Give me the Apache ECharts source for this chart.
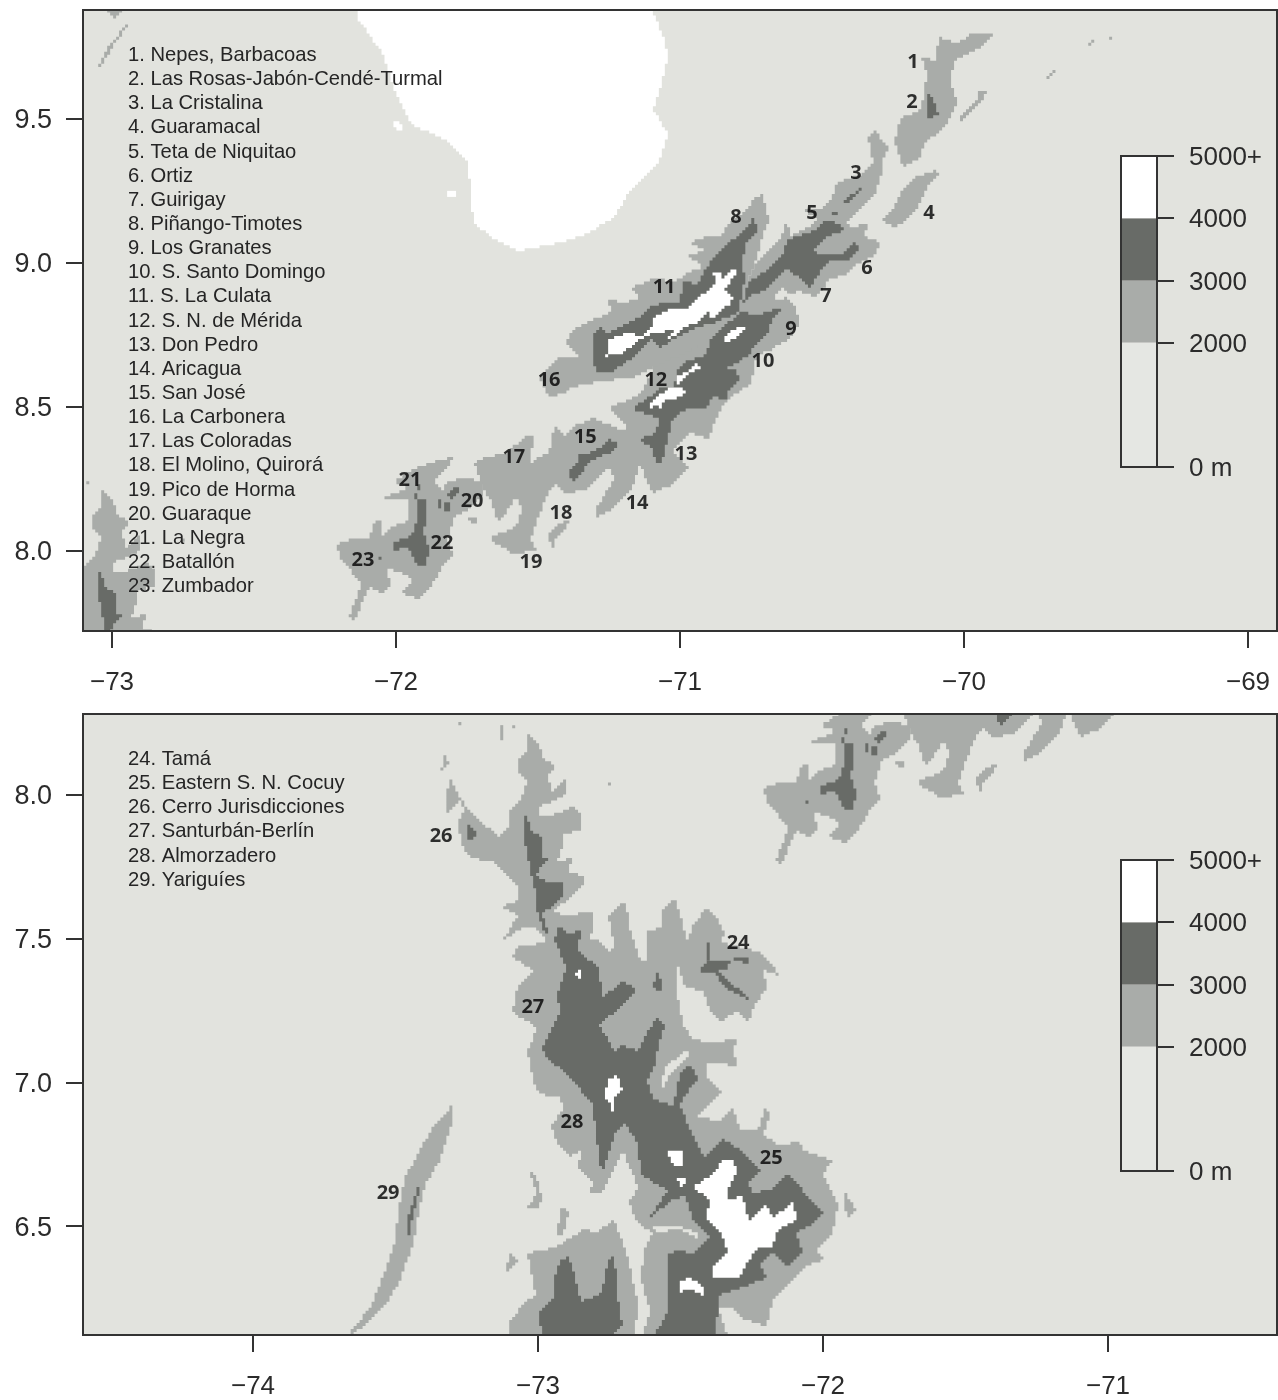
<!DOCTYPE html>
<html><head><meta charset="utf-8">
<script src="https://cdn.jsdelivr.net/npm/echarts@6/dist/echarts.min.js"></script>
<style>html,body{margin:0;padding:0;background:#fff}#c{width:1278px;height:1400px}</style>
</head><body><div id="c"></div>
<script>
// ----- text -----
const namesTop=["1. Nepes, Barbacoas","2. Las Rosas-Jabón-Cendé-Turmal","3. La Cristalina","4. Guaramacal","5. Teta de Niquitao","6. Ortiz","7. Guirigay","8. Piñango-Timotes","9. Los Granates","10. S. Santo Domingo","11. S. La Culata","12. S. N. de Mérida","13. Don Pedro","14. Aricagua","15. San José","16. La Carbonera","17. Las Coloradas","18. El Molino, Quirorá","19. Pico de Horma","20. Guaraque","21. La Negra","22. Batallón","23. Zumbador"];
const namesBottom=["24. Tamá","25. Eastern S. N. Cocuy","26. Cerro Jurisdicciones","27. Santurbán-Berlín","28. Almorzadero","29. Yariguíes"];
// ----- ticks and axis limits (degrees) -----
const lonTicksTop=[-73,-72,-71,-70,-69];
const latTicksTop=[8,8.5,9,9.5];
const lonTicksBottom=[-74,-73,-72,-71];
const latTicksBottom=[6.5,7,7.5,8];
const limitsTop=[-73.1021,-68.8979,7.7222,9.8785];
const limitsBottom=[-74.5965,-70.407,6.1215,8.28125];
// ----- number labels [lon,lat,text] -----
const labelsTop=[[-70.180,9.698,"1"],[-70.183,9.559,"2"],[-70.380,9.313,"3"],[-70.123,9.174,"4"],[-70.535,9.171,"5"],[-70.342,8.980,"6"],[-70.486,8.886,"7"],[-70.803,9.157,"8"],[-70.609,8.771,"9"],[-70.708,8.660,"10"],[-71.056,8.914,"11"],[-71.085,8.594,"12"],[-70.979,8.337,"13"],[-71.151,8.167,"14"],[-71.334,8.396,"15"],[-71.461,8.591,"16"],[-71.585,8.327,"17"],[-71.419,8.132,"18"],[-71.525,7.962,"19"],[-71.732,8.171,"20"],[-71.951,8.244,"21"],[-71.838,8.025,"22"],[-72.116,7.966,"23"]];
const labelsBottom=[[-72.298,7.483,"24"],[-72.182,6.737,"25"],[-73.340,7.855,"26"],[-73.018,7.261,"27"],[-72.881,6.862,"28"],[-73.526,6.615,"29"]];
// ----- elevation legend (m) -----
const bandEdges=[0,2000,3000,4000,5000];
const legendTicks=[0,2000,3000,4000,5000];
const bandColors=["#e5e7e3","#a9aca9","#686b67","#ffffff"];
// ----- 2000-3000 m outlines [lon,lat] -----
const mid=[
[[-70.077,9.802],[-70.074,9.774],[-70.025,9.764],[-69.968,9.799],[-69.901,9.799],[-69.933,9.757],[-70.014,9.715],[-70.039,9.705],[-70.049,9.625],[-70.025,9.559],[-70.060,9.497],[-70.085,9.451],[-70.137,9.417],[-70.148,9.368],[-70.215,9.333],[-70.250,9.417],[-70.225,9.507],[-70.155,9.531],[-70.137,9.611],[-70.127,9.663],[-70.148,9.712],[-70.095,9.705],[-70.095,9.740]],
[[-69.954,9.594],[-69.915,9.594],[-69.937,9.559],[-69.979,9.521],[-70.007,9.490],[-70.021,9.503],[-69.986,9.538],[-69.954,9.573]],
[[-69.725,9.642],[-69.697,9.663],[-69.662,9.681],[-69.676,9.660],[-69.708,9.639]],
[[-69.574,9.757],[-69.549,9.774],[-69.532,9.760]],
[[-69.486,9.781],[-69.465,9.774],[-69.479,9.760]],
[[-70.095,9.323],[-70.092,9.306],[-70.130,9.264],[-70.165,9.194],[-70.201,9.149],[-70.250,9.125],[-70.289,9.142],[-70.250,9.194],[-70.215,9.264],[-70.162,9.299]],
[[-70.313,9.469],[-70.296,9.427],[-70.268,9.399],[-70.282,9.358],[-70.289,9.312],[-70.313,9.253],[-70.359,9.184],[-70.412,9.142],[-70.401,9.122],[-70.338,9.139],[-70.352,9.097],[-70.296,9.069],[-70.303,9.035],[-70.366,9.000],[-70.408,8.958],[-70.479,8.951],[-70.500,8.906],[-70.525,8.882],[-70.577,8.899],[-70.630,8.882],[-70.595,8.854],[-70.581,8.785],[-70.613,8.733],[-70.655,8.715],[-70.690,8.691],[-70.729,8.681],[-70.754,8.576],[-70.806,8.542],[-70.852,8.490],[-70.887,8.427],[-70.894,8.392],[-70.958,8.410],[-71.018,8.344],[-70.972,8.281],[-71.025,8.236],[-71.095,8.201],[-71.113,8.240],[-71.141,8.309],[-71.169,8.212],[-71.257,8.142],[-71.292,8.118],[-71.299,8.149],[-71.236,8.257],[-71.257,8.292],[-71.327,8.212],[-71.398,8.201],[-71.433,8.236],[-71.468,8.201],[-71.493,8.132],[-71.528,8.038],[-71.504,8.004],[-71.588,7.993],[-71.669,8.038],[-71.574,8.083],[-71.553,8.153],[-71.574,8.188],[-71.623,8.118],[-71.644,8.108],[-71.658,8.167],[-71.694,8.222],[-71.722,8.306],[-71.680,8.323],[-71.623,8.340],[-71.539,8.403],[-71.518,8.403],[-71.528,8.306],[-71.504,8.326],[-71.468,8.340],[-71.447,8.427],[-71.412,8.396],[-71.377,8.431],[-71.306,8.465],[-71.211,8.420],[-71.176,8.431],[-71.257,8.490],[-71.141,8.549],[-71.106,8.611],[-71.088,8.663],[-70.965,8.733],[-70.806,8.872],[-70.729,9.010],[-70.658,9.069],[-70.623,9.142],[-70.613,9.090],[-70.553,9.125],[-70.518,9.160],[-70.567,9.191],[-70.497,9.184],[-70.461,9.229],[-70.447,9.278],[-70.373,9.299],[-70.320,9.340],[-70.342,9.437]],
[[-71.458,8.535],[-71.493,8.604],[-71.433,8.670],[-71.363,8.670],[-71.398,8.722],[-71.377,8.767],[-71.317,8.802],[-71.246,8.826],[-71.254,8.872],[-71.187,8.861],[-71.141,8.882],[-71.169,8.917],[-71.095,8.951],[-71.025,8.934],[-70.965,8.965],[-70.919,8.986],[-70.975,9.028],[-70.905,9.045],[-70.972,9.073],[-70.905,9.090],[-70.859,9.090],[-70.835,9.139],[-70.746,9.194],[-70.754,9.219],[-70.708,9.243],[-70.701,9.174],[-70.683,9.149],[-70.708,9.104],[-70.729,9.021],[-70.754,8.965],[-70.771,8.906],[-70.800,8.800],[-70.950,8.700],[-71.090,8.640],[-71.165,8.604],[-71.282,8.590],[-71.377,8.569],[-71.405,8.542]],
[[-71.803,8.323],[-71.915,8.292],[-72.014,8.247],[-71.961,8.219],[-72.049,8.184],[-71.958,8.177],[-71.958,8.108],[-72.014,8.083],[-72.056,8.038],[-72.049,8.108],[-72.074,8.108],[-72.092,8.038],[-72.144,8.038],[-72.204,8.021],[-72.197,7.976],[-72.151,7.924],[-72.120,7.889],[-72.137,7.840],[-72.169,7.771],[-72.144,7.760],[-72.116,7.830],[-72.092,7.875],[-72.046,7.858],[-72.021,7.889],[-72.032,7.934],[-71.986,7.924],[-71.940,7.899],[-71.975,7.858],[-71.926,7.830],[-71.870,7.889],[-71.838,7.934],[-71.799,7.993],[-71.820,8.038],[-71.785,8.132],[-71.750,8.142],[-71.694,8.201],[-71.694,8.247],[-71.750,8.257],[-71.820,8.247],[-71.834,8.212],[-71.870,8.247],[-71.810,8.306]],
[[-71.750,8.118],[-71.715,8.115],[-71.715,8.094],[-71.739,8.097]],
[[-71.387,8.108],[-71.423,8.097],[-71.468,8.063],[-71.451,7.997],[-71.433,8.049],[-71.398,8.083]],
[[-72.937,9.854],[-73.014,9.740],[-73.053,9.681],[-73.042,9.677],[-72.996,9.750],[-72.947,9.833]],
[[-73.014,9.880],[-72.965,9.880],[-72.982,9.854]],
[[-73.316,8.062],[-73.284,8.003],[-73.239,7.934],[-73.179,7.889],[-73.133,7.854],[-73.098,7.899],[-73.105,7.944],[-73.063,7.979],[-73.039,8.049],[-73.070,8.073],[-73.074,8.132],[-73.035,8.160],[-73.035,8.212],[-72.993,8.177],[-72.982,8.132],[-72.933,8.097],[-72.965,8.062],[-72.958,8.010],[-72.905,8.062],[-72.905,8.003],[-72.947,7.976],[-72.993,7.958],[-73,7.924],[-72.958,7.924],[-72.881,7.958],[-72.853,7.924],[-72.846,7.875],[-72.912,7.865],[-72.912,7.819],[-72.930,7.771],[-72.877,7.785],[-72.895,7.726],[-72.835,7.715],[-72.842,7.681],[-72.912,7.622],[-72.947,7.587],[-72.912,7.576],[-72.811,7.587],[-72.807,7.542],[-72.818,7.493],[-72.789,7.493],[-72.747,7.448],[-72.737,7.483],[-72.754,7.576],[-72.705,7.632],[-72.677,7.576],[-72.684,7.542],[-72.635,7.424],[-72.618,7.424],[-72.618,7.528],[-72.565,7.542],[-72.561,7.587],[-72.526,7.649],[-72.495,7.562],[-72.484,7.493],[-72.467,7.493],[-72.460,7.542],[-72.407,7.611],[-72.368,7.562],[-72.344,7.517],[-72.351,7.483],[-72.232,7.455],[-72.186,7.424],[-72.161,7.372],[-72.210,7.389],[-72.196,7.333],[-72.239,7.264],[-72.263,7.215],[-72.302,7.250],[-72.351,7.215],[-72.396,7.240],[-72.421,7.319],[-72.477,7.333],[-72.512,7.413],[-72.509,7.309],[-72.491,7.205],[-72.456,7.149],[-72.396,7.139],[-72.302,7.149],[-72.316,7.104],[-72.298,7.052],[-72.351,7.069],[-72.407,7.069],[-72.407,7.010],[-72.351,6.976],[-72.386,6.931],[-72.442,6.882],[-72.361,6.872],[-72.316,6.906],[-72.291,6.837],[-72.232,6.837],[-72.203,6.917],[-72.186,6.882],[-72.210,6.813],[-72.151,6.785],[-72.081,6.795],[-72.074,6.757],[-71.965,6.733],[-72.000,6.674],[-71.947,6.569],[-71.965,6.479],[-72.021,6.420],[-72.000,6.385],[-72.056,6.361],[-72.126,6.292],[-72.175,6.236],[-72.196,6.153],[-72.267,6.177],[-72.316,6.212],[-72.361,6.212],[-72.337,6.108],[-72.642,6.108],[-72.607,6.201],[-72.642,6.316],[-72.632,6.420],[-72.596,6.479],[-72.653,6.514],[-72.677,6.583],[-72.653,6.639],[-72.702,6.767],[-72.740,6.681],[-72.772,6.611],[-72.818,6.618],[-72.807,6.653],[-72.863,6.708],[-72.846,6.757],[-72.888,6.740],[-72.933,6.792],[-72.951,6.847],[-72.912,6.906],[-72.923,6.948],[-72.968,6.951],[-73.004,6.976],[-73.039,7.104],[-73.018,7.149],[-73.011,7.194],[-73.088,7.240],[-73.074,7.344],[-73.018,7.389],[-73.088,7.437],[-73.074,7.472],[-73.028,7.472],[-72.968,7.493],[-73.018,7.542],[-73.053,7.542],[-73.123,7.493],[-73.074,7.576],[-73.133,7.611],[-73.074,7.632],[-73.074,7.691],[-73.098,7.715],[-73.161,7.771],[-73.239,7.785],[-73.274,7.830],[-73.281,7.910],[-73.263,7.944],[-73.274,7.976],[-73.326,7.941],[-73.326,7.979]],
[[-71.923,6.622],[-71.888,6.552],[-71.912,6.531],[-71.930,6.576]],
[[-73.098,6.108],[-73.098,6.167],[-73.053,6.236],[-73.004,6.257],[-73.039,6.410],[-72.947,6.431],[-72.842,6.490],[-72.793,6.483],[-72.737,6.524],[-72.688,6.420],[-72.653,6.236],[-72.660,6.108]],
[[-73.302,6.941],[-73.298,6.854],[-73.344,6.733],[-73.397,6.646],[-73.414,6.559],[-73.442,6.438],[-73.491,6.299],[-73.537,6.212],[-73.590,6.160],[-73.653,6.122],[-73.660,6.135],[-73.583,6.229],[-73.537,6.333],[-73.502,6.455],[-73.491,6.559],[-73.467,6.663],[-73.414,6.767],[-73.368,6.854],[-73.316,6.906]],
[[-73.028,6.688],[-73.004,6.681],[-72.986,6.594],[-72.993,6.559],[-73.035,6.559],[-73.011,6.611]],
[[-72.923,6.559],[-72.895,6.552],[-72.912,6.472],[-72.930,6.472]],
[[-73.098,6.410],[-73.074,6.385],[-73.098,6.344],[-73.109,6.344]],
[[-72.754,8.042],[-72.719,8.056],[-72.740,8.031]],
[[-73.133,8.247],[-73.123,8.247],[-73.123,8.194],[-73.133,8.198]],
[[-73.105,8.243],[-73.070,8.243],[-73.081,8.233]],
[[-73.288,8.257],[-73.260,8.257],[-73.274,8.243]],
[[-73.333,8.149],[-73.316,8.101],[-73.354,8.083],[-73.330,8.087]]
];
// ----- gaps below 2000 m inside the ranges -----
const low=[
[[-70.676,8.878],[-70.637,8.913],[-70.613,8.885],[-70.648,8.872]],
[[-72.477,7.108],[-72.463,7.094],[-72.547,7.028],[-72.558,6.986],[-72.568,6.993],[-72.558,7.052]],
[[-72.596,6.497],[-72.502,6.503],[-72.432,6.469],[-72.435,6.455],[-72.502,6.486],[-72.589,6.479]]
];
// ----- 3000-4000 m outlines -----
const dark=[
[[-71.310,8.743],[-71.289,8.778],[-71.254,8.760],[-71.194,8.792],[-71.151,8.809],[-71.116,8.844],[-71.060,8.861],[-71,8.865],[-70.986,8.931],[-70.937,8.924],[-70.919,8.969],[-70.894,9.000],[-70.859,9.052],[-70.813,9.087],[-70.761,9.122],[-70.739,9.163],[-70.729,9.108],[-70.771,9.062],[-70.778,8.983],[-70.771,8.948],[-70.789,8.847],[-70.789,8.830],[-70.884,8.792],[-70.940,8.774],[-71,8.743],[-71.070,8.708],[-71.095,8.733],[-71.141,8.698],[-71.176,8.663],[-71.239,8.622],[-71.299,8.622],[-71.310,8.674]],
[[-70.437,9.139],[-70.426,9.115],[-70.497,9.080],[-70.532,9.045],[-70.507,9.035],[-70.437,9.028],[-70.377,9.069],[-70.366,9.045],[-70.412,9.010],[-70.472,9.010],[-70.507,8.965],[-70.542,8.917],[-70.567,8.951],[-70.623,8.976],[-70.694,8.906],[-70.764,8.882],[-70.789,8.830],[-70.729,8.819],[-70.658,8.844],[-70.637,8.837],[-70.673,8.795],[-70.694,8.743],[-70.743,8.715],[-70.754,8.681],[-70.824,8.646],[-70.842,8.628],[-70.799,8.628],[-70.789,8.594],[-70.835,8.559],[-70.835,8.524],[-70.884,8.535],[-70.905,8.490],[-70.965,8.490],[-71.018,8.465],[-71.028,8.431],[-71.046,8.385],[-71.060,8.306],[-71.081,8.306],[-71.095,8.358],[-71.148,8.385],[-71.081,8.410],[-71.070,8.462],[-71.165,8.490],[-71.106,8.535],[-71.060,8.569],[-71.025,8.569],[-71.011,8.618],[-70.989,8.653],[-70.905,8.688],[-70.894,8.733],[-70.849,8.778],[-70.789,8.819],[-70.764,8.931],[-70.708,8.965],[-70.648,9.021],[-70.623,9.080],[-70.532,9.115],[-70.482,9.149]],
[[-71.870,8.274],[-71.915,8.247],[-71.933,8.177],[-71.891,8.177],[-71.898,8.108],[-71.901,8.062],[-71.880,8.014],[-71.898,7.951],[-71.926,7.951],[-71.961,8.014],[-72.011,8.004],[-72.004,8.031],[-71.951,8.049],[-71.926,8.118],[-71.926,8.201],[-71.901,8.253]],
[[-71.820,8.194],[-71.792,8.236],[-71.775,8.212],[-71.785,8.188],[-71.803,8.184]],
[[-71.856,8.177],[-71.842,8.177],[-71.838,8.153],[-71.856,8.153]],
[[-71.831,8.167],[-71.813,8.167],[-71.810,8.139],[-71.831,8.142]],
[[-72.049,7.979],[-72.067,7.934],[-72.077,7.927],[-72.063,7.976]],
[[-71.363,8.340],[-71.327,8.333],[-71.282,8.358],[-71.257,8.385],[-71.211,8.368],[-71.236,8.351],[-71.306,8.316],[-71.342,8.281],[-71.377,8.236],[-71.387,8.281],[-71.363,8.306]],
[[-70.419,9.219],[-70.359,9.264],[-70.366,9.243],[-70.412,9.208]],
[[-70.465,9.174],[-70.444,9.174],[-70.444,9.163],[-70.465,9.163]],
[[-70.127,9.601],[-70.113,9.566],[-70.092,9.514],[-70.130,9.507],[-70.127,9.556]],
[[-73.249,7.906],[-73.221,7.865],[-73.239,7.830],[-73.246,7.865]],
[[-73.053,7.927],[-73.035,7.924],[-73.028,7.875],[-72.986,7.854],[-72.986,7.785],[-72.965,7.785],[-72.965,7.767],[-73,7.736],[-73.011,7.715],[-72.968,7.701],[-72.912,7.698],[-72.912,7.649],[-72.965,7.597],[-72.982,7.576],[-72.968,7.517],[-72.986,7.535],[-73.011,7.611],[-73.011,7.656],[-73.039,7.795],[-73.053,7.854]],
[[-72.947,7.493],[-72.923,7.552],[-72.898,7.517],[-72.853,7.528],[-72.863,7.455],[-72.818,7.424],[-72.782,7.389],[-72.772,7.299],[-72.705,7.354],[-72.653,7.319],[-72.702,7.264],[-72.782,7.208],[-72.737,7.104],[-72.702,7.125],[-72.653,7.104],[-72.632,7.149],[-72.582,7.219],[-72.554,7.194],[-72.572,7.139],[-72.582,7.069],[-72.618,7.000],[-72.596,6.941],[-72.526,6.917],[-72.502,7.035],[-72.467,7.069],[-72.442,7.010],[-72.491,6.941],[-72.502,6.917],[-72.456,6.826],[-72.421,6.740],[-72.351,6.802],[-72.281,6.767],[-72.232,6.698],[-72.196,6.708],[-72.256,6.653],[-72.246,6.618],[-72.186,6.628],[-72.126,6.674],[-72.070,6.628],[-72.035,6.569],[-72.000,6.552],[-72.035,6.514],[-72.091,6.479],[-72.070,6.410],[-72.126,6.361],[-72.175,6.420],[-72.221,6.361],[-72.196,6.316],[-72.267,6.292],[-72.361,6.257],[-72.372,6.108],[-72.596,6.108],[-72.547,6.201],[-72.547,6.306],[-72.547,6.410],[-72.512,6.420],[-72.456,6.410],[-72.396,6.465],[-72.456,6.535],[-72.477,6.604],[-72.526,6.594],[-72.607,6.535],[-72.547,6.628],[-72.642,6.674],[-72.653,6.778],[-72.688,6.861],[-72.737,6.813],[-72.772,6.674],[-72.793,6.813],[-72.807,6.917],[-72.853,6.976],[-72.912,7.045],[-72.968,7.080],[-72.982,7.122],[-72.958,7.181],[-72.923,7.240],[-72.933,7.309],[-72.898,7.403]],
[[-72.982,6.108],[-72.993,6.201],[-72.940,6.247],[-72.940,6.316],[-72.923,6.385],[-72.888,6.392],[-72.870,6.316],[-72.853,6.236],[-72.772,6.271],[-72.758,6.385],[-72.737,6.410],[-72.719,6.292],[-72.712,6.177],[-72.688,6.167],[-72.747,6.108]],
[[-73.421,6.653],[-73.414,6.628],[-73.442,6.542],[-73.453,6.438],[-73.460,6.524]],
[[-72.596,7.333],[-72.589,7.368],[-72.572,7.396],[-72.561,7.319]],
[[-72.432,7.396],[-72.403,7.420],[-72.326,7.420],[-72.333,7.396],[-72.361,7.389],[-72.337,7.354],[-72.256,7.299],[-72.263,7.285],[-72.344,7.333],[-72.372,7.378],[-72.421,7.378]],
[[-72.407,7.483],[-72.400,7.483],[-72.396,7.420],[-72.407,7.413]],
[[-72.309,7.431],[-72.256,7.431],[-72.256,7.417],[-72.302,7.420]]
];
// ----- above 4000 m, and the lake -----
const white=[
[[-72.134,9.878],[-72.137,9.844],[-72.056,9.729],[-71.996,9.583],[-71.951,9.479],[-71.827,9.427],[-71.746,9.358],[-71.739,9.219],[-71.722,9.132],[-71.651,9.080],[-71.563,9.045],[-71.423,9.069],[-71.352,9.090],[-71.236,9.160],[-71.176,9.253],[-71.070,9.347],[-71.046,9.451],[-71.095,9.531],[-71.060,9.625],[-71.046,9.715],[-71.053,9.774],[-71.088,9.844],[-71.099,9.878]],
[[-72.014,9.497],[-71.975,9.483],[-71.979,9.458],[-72.014,9.469]],
[[-71.820,9.253],[-71.792,9.247],[-71.792,9.229],[-71.817,9.233]],
[[-70.884,8.969],[-70.852,8.969],[-70.849,8.941],[-70.817,8.993],[-70.799,8.965],[-70.824,8.931],[-70.842,8.906],[-70.817,8.878],[-70.824,8.847],[-70.852,8.844],[-70.884,8.802],[-70.901,8.830],[-70.930,8.813],[-70.940,8.792],[-70.989,8.774],[-71.011,8.743],[-71.042,8.733],[-71.025,8.767],[-71.088,8.760],[-71.116,8.750],[-71.141,8.733],[-71.176,8.708],[-71.211,8.688],[-71.246,8.688],[-71.264,8.670],[-71.254,8.708],[-71.254,8.733],[-71.211,8.743],[-71.187,8.757],[-71.141,8.743],[-71.095,8.774],[-71.095,8.813],[-71.035,8.844],[-70.975,8.844],[-70.940,8.878],[-70.884,8.917],[-70.877,8.941]],
[[-71.106,8.507],[-71.081,8.535],[-71.035,8.566],[-70.989,8.569],[-70.982,8.542],[-71.018,8.531],[-71.053,8.524],[-71.060,8.497],[-71.081,8.514],[-71.099,8.497]],
[[-71.011,8.611],[-70.975,8.622],[-70.940,8.653],[-70.930,8.635],[-70.954,8.618],[-70.989,8.587],[-71.007,8.583]],
[[-70.835,8.757],[-70.789,8.778],[-70.771,8.778],[-70.799,8.740],[-70.835,8.722],[-70.849,8.733]],
[[-72.354,6.733],[-72.316,6.726],[-72.298,6.688],[-72.333,6.628],[-72.337,6.594],[-72.281,6.604],[-72.256,6.524],[-72.196,6.569],[-72.175,6.535],[-72.105,6.583],[-72.088,6.524],[-72.151,6.490],[-72.175,6.431],[-72.232,6.431],[-72.267,6.361],[-72.291,6.316],[-72.386,6.326],[-72.386,6.361],[-72.337,6.410],[-72.351,6.479],[-72.407,6.535],[-72.396,6.594],[-72.456,6.639],[-72.386,6.674]],
[[-72.502,6.306],[-72.467,6.326],[-72.421,6.292],[-72.414,6.257],[-72.456,6.281],[-72.491,6.281],[-72.502,6.247]],
[[-72.758,7.017],[-72.719,7.021],[-72.705,6.976],[-72.730,6.941],[-72.737,6.882],[-72.740,6.931],[-72.765,6.951]],
[[-72.547,6.760],[-72.491,6.767],[-72.491,6.708],[-72.512,6.708],[-72.537,6.733]],
[[-72.509,6.663],[-72.477,6.663],[-72.495,6.628]],
[[-72.867,7.368],[-72.846,7.399],[-72.853,7.365]]
];

const FONT='"Liberation Sans",Arial,sans-serif';
const INK='#2b2b2b', FRAME='#333333';
const fills={mid:'#a9aca9',low:'#e2e3de',dark:'#686b67',white:'#ffffff'};
const DEM_CELL=0.0105; // outlines follow the elevation raster's cell grid, in degrees

function onCells(poly){
  const out=[];
  const n=poly.length;
  for(let i=0;i<n;i++){
    let ax=Math.round(poly[i][0]/DEM_CELL), ay=Math.round(poly[i][1]/DEM_CELL);
    const bx=Math.round(poly[(i+1)%n][0]/DEM_CELL), by=Math.round(poly[(i+1)%n][1]/DEM_CELL);
    const dx=Math.abs(bx-ax), dy=Math.abs(by-ay), sx=Math.sign(bx-ax), sy=Math.sign(by-ay);
    let cx=0, cy=0;
    out.push([ax*DEM_CELL,ay*DEM_CELL]);
    while(cx<dx||cy<dy){
      if(cy>=dy||(cx<dx&&(cx+0.5)*dy<=(cy+0.5)*dx)){cx++;ax+=sx;} else {cy++;ay+=sy;}
      out.push([ax*DEM_CELL,ay*DEM_CELL]);
    }
  }
  return out;
}
function polySeries(polys,fill,x,y){
  const cells=polys.map(onCells);
  return {type:'custom',xAxisIndex:x,yAxisIndex:y,clip:true,silent:true,animation:false,z:2,
    data:polys.map((p,i)=>[i]),encode:{x:-1,y:-1},
    renderItem:(params,api)=>({type:'polygon',shape:{points:cells[params.dataIndex].map(p=>api.coord(p))},style:{fill:fill}})};
}
function mapLayers(x,y){
  return [polySeries(mid,fills.mid,x,y),polySeries(low,fills.low,x,y),polySeries(dark,fills.dark,x,y),polySeries(white,fills.white,x,y)];
}
function frameSeries(lim,x,y,w){
  return {type:'custom',xAxisIndex:x,yAxisIndex:y,clip:false,silent:true,animation:false,z:8,data:[[0]],encode:{x:-1,y:-1},
    renderItem:(params,api)=>{const a=api.coord([lim[0],lim[3]]),b=api.coord([lim[1],lim[2]]);
      return {type:'rect',shape:{x:a[0],y:a[1],width:b[0]-a[0],height:b[1]-a[1]},style:{fill:'none',stroke:FRAME,lineWidth:w}};}};
}
function labelSeries(labels,x,y){
  return {type:'scatter',xAxisIndex:x,yAxisIndex:y,symbolSize:1,itemStyle:{color:'rgba(0,0,0,0)'},silent:true,animation:false,z:6,
    data:labels.map(l=>({value:[l[0],l[1]],name:l[2]})),
    label:{show:true,position:'inside',formatter:'{b}',fontFamily:'"Open Sans",sans-serif',fontWeight:'bold',fontSize:20,color:'#000000'}};
}
function bandSeries(x,y){
  return {type:'custom',xAxisIndex:x,yAxisIndex:y,clip:false,silent:true,animation:false,z:2,
    data:bandColors.map((c,i)=>[0,1,bandEdges[i],bandEdges[i+1]]),encode:{x:-1,y:-1},
    renderItem:(params,api)=>{const a=api.coord([api.value(0),api.value(3)]),b=api.coord([api.value(1),api.value(2)]);
      return {type:'rect',shape:{x:a[0],y:a[1],width:b[0]-a[0],height:b[1]-a[1]},style:{fill:bandColors[params.dataIndex]}};}};
}
function mapX(lim,idx,ticks){
  return {type:'value',gridIndex:idx,min:lim[0],max:lim[1],position:'bottom',splitLine:{show:false},
    axisLine:{show:false,onZero:false},axisTick:{show:true,length:17,inside:false,lineStyle:{color:FRAME,width:2},customValues:ticks},
    axisLabel:{show:true,margin:39,fontFamily:FONT,fontSize:26,color:INK,customValues:ticks,formatter:v=>String(v).replace('-','\u2212')}};
}
function mapY(lim,idx,ticks){
  return {type:'value',gridIndex:idx,min:lim[2],max:lim[3],position:'left',splitLine:{show:false},
    axisLine:{show:false,onZero:false},axisTick:{show:true,length:17,lineStyle:{color:FRAME,width:2},customValues:ticks},
    axisLabel:{show:true,margin:31,fontFamily:FONT,fontSize:27,color:INK,verticalAlign:'top',lineHeight:4,customValues:ticks,formatter:v=>Number(v).toFixed(1)}};
}
function legX(idx){return {type:'value',gridIndex:idx,min:0,max:1,show:false};}
function legY(idx){
  return {type:'value',gridIndex:idx,min:0,max:5000,position:'right',splitLine:{show:false},
    axisLine:{show:false,onZero:false},axisTick:{show:true,length:17,lineStyle:{color:FRAME,width:2},customValues:legendTicks},
    axisLabel:{show:true,margin:32,fontFamily:FONT,fontSize:26,color:INK,verticalAlign:'top',lineHeight:4,customValues:legendTicks,
      formatter:v=>v===0?'0 m':(v===5000?'5000+':String(v))}};
}
function listText(names,top){
  return names.map((t,i)=>({type:'text',x:128,y:top+i*24.14,z:20,silent:true,
    style:{text:t,font:'20.2px '+FONT,fill:'#252525',textVerticalAlign:'middle'}}));
}
const chart=echarts.init(document.getElementById('c'),null,{renderer:'canvas'});
chart.setOption({
  animation:false,backgroundColor:'#ffffff',
  grid:[
    {left:83,top:10,width:1194,height:621,show:true,backgroundColor:'#e2e3de',borderWidth:0},
    {left:83,top:714,width:1194,height:622,show:true,backgroundColor:'#e2e3de',borderWidth:0},
    {left:1121,top:156,width:36,height:311,show:false},
    {left:1121,top:860,width:36,height:311,show:false}
  ],
  xAxis:[mapX(limitsTop,0,lonTicksTop),mapX(limitsBottom,1,lonTicksBottom),legX(2),legX(3)],
  yAxis:[mapY(limitsTop,0,latTicksTop),mapY(limitsBottom,1,latTicksBottom),legY(2),legY(3)],
  series:[].concat(
    mapLayers(0,0),[labelSeries(labelsTop,0,0),frameSeries(limitsTop,0,0,2)],
    mapLayers(1,1),[labelSeries(labelsBottom,1,1),frameSeries(limitsBottom,1,1,2)],
    [bandSeries(2,2),frameSeries([0,1,0,5000],2,2,2)],
    [bandSeries(3,3),frameSeries([0,1,0,5000],3,3,2)]
  ),
  graphic:{elements:listText(namesTop,55.5).concat(listText(namesBottom,759.5))}
});
</script></body></html>
